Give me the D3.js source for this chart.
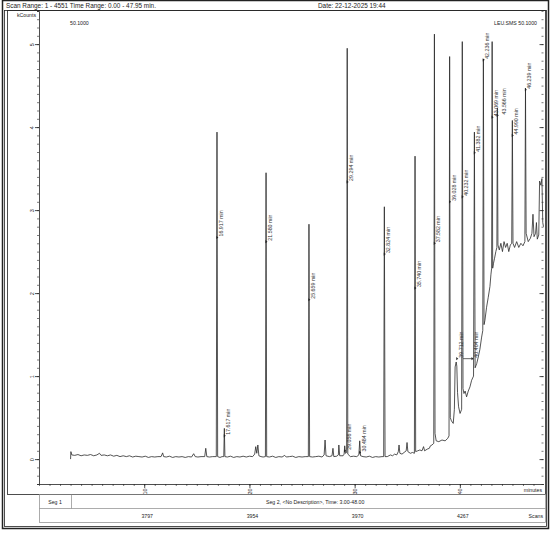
<!DOCTYPE html>
<html>
<head>
<meta charset="utf-8">
<script src="https://cdn.jsdelivr.net/npm/d3@7"></script>
<style>
  body { margin: 0; background: #fff; }
  text { font-family: "Liberation Sans Narrow", "Liberation Sans", Arial, sans-serif; fill: #222; }
</style>
</head>
<body>
<svg id="chart" width="550" height="533"></svg>
<script>
// header / footer texts
let headerLeft = "Scan Range: 1 - 4551 Time Range: 0.00 - 47.95 min.";
let headerDate = "Date: 22-12-2025 19:44";
let yUnit = "kCounts";
let traceName = "50.1000";
let fileName = "LEU.SMS 50.1000";
let segOne = "Seg 1";
let segTwo = "Seg 2, <No Description>, Time: 3.00-48.00";

// axis ticks
let yTickValues = [0, 1, 2, 3, 4, 5];
let xTickValues = [10, 20, 30, 40];
let scanLabels = ["3797", "3954", "3970", "4267"];

// chromatogram trace: [minutes, kCounts]
let trace = [
  [3.00,0.00],[3.03,0.09],[3.12,0.05],[3.4,0.045],[3.7,0.055],[4.0,0.04],[4.3,0.05],[4.6,0.045],
  [4.9,0.055],[5.2,0.04],[5.5,0.05],[5.75,0.07],[5.9,0.045],[6.2,0.05],[6.5,0.04],[6.8,0.05],
  [7.1,0.035],[7.4,0.045],[7.7,0.03],[8.0,0.04],[8.3,0.03],[8.6,0.04],[8.9,0.025],[9.2,0.035],
  [9.5,0.03],[9.8,0.025],[10.1,0.035],[10.4,0.02],[10.7,0.03],[11.0,0.025],[11.3,0.03],[11.6,0.03],
  [11.75,0.075],[11.85,0.03],[12.1,0.025],[12.4,0.035],[12.7,0.02],[13.0,0.03],[13.3,0.025],
  [13.6,0.03],[13.9,0.02],[14.2,0.03],[14.5,0.025],[14.7,0.065],[14.85,0.03],[15.1,0.025],
  [15.4,0.03],[15.75,0.03],[15.85,0.13],[15.95,0.03],[16.2,0.025],[16.5,0.03],[16.85,0.03],
  [16.917,3.94],[16.98,0.03],[17.2,0.02],[17.4,0.03],[17.56,0.03],[17.617,0.37],[17.67,0.03],
  [17.9,0.025],[18.2,0.035],[18.5,0.02],[18.8,0.03],[19.1,0.025],[19.4,0.035],[19.7,0.025],
  [20.0,0.035],[20.3,0.03],[20.5,0.06],[20.6,0.15],[20.7,0.07],[20.8,0.17],[20.9,0.04],[21.1,0.03],
  [21.3,0.025],[21.52,0.03],[21.58,3.45],[21.64,0.03],[21.9,0.025],[22.2,0.035],[22.5,0.02],
  [22.8,0.03],[23.1,0.025],[23.35,0.045],[23.5,0.025],[23.8,0.03],[24.1,0.035],[24.4,0.02],
  [24.7,0.03],[25.0,0.025],[25.3,0.03],[25.6,0.03],[25.659,2.83],[25.72,0.03],[26.0,0.025],
  [26.3,0.03],[26.6,0.035],[26.9,0.025],[27.1,0.05],[27.19,0.23],[27.28,0.04],[27.6,0.03],
  [27.85,0.04],[27.94,0.13],[28.02,0.03],[28.3,0.035],[28.45,0.05],[28.5,0.17],[28.58,0.04],
  [28.9,0.04],[29.0,0.06],[29.056,0.16],[29.13,0.07],[29.24,0.08],[29.294,4.95],[29.35,0.06],
  [29.6,0.03],[29.9,0.035],[30.2,0.03],[30.4,0.05],[30.484,0.22],[30.56,0.04],[30.8,0.03],
  [31.1,0.025],[31.4,0.035],[31.7,0.02],[32.0,0.03],[32.3,0.025],[32.6,0.03],[32.76,0.03],
  [32.824,3.04],[32.89,0.03],[33.1,0.03],[33.4,0.05],[33.6,0.04],[33.8,0.06],[34.0,0.05],
  [34.15,0.09],[34.22,0.17],[34.3,0.07],[34.5,0.06],[34.7,0.08],[34.9,0.1],[34.98,0.2],[35.06,0.09],
  [35.3,0.07],[35.5,0.08],[35.68,0.07],[35.74,3.65],[35.8,0.09],[36.0,0.1],[36.2,0.11],[36.4,0.1],
  [36.55,0.15],[36.65,0.1],[36.9,0.12],[37.1,0.13],[37.2,0.16],[37.35,0.17],[37.52,0.19],
  [37.582,5.12],[37.64,0.31],[37.75,0.22],[38.0,0.21],[38.3,0.23],[38.6,0.22],[38.85,0.25],
  [38.97,0.28],[39.028,4.85],[39.09,0.5],[39.2,0.46],[39.37,0.43],[39.48,0.6],[39.55,1.11],
  [39.65,1.17],[39.712,1.12],[39.78,0.8],[39.88,0.63],[40.02,0.55],[40.17,0.6],[40.232,5.03],
  [40.3,0.85],[40.39,0.79],[40.5,0.82],[40.64,0.75],[40.8,0.82],[40.96,0.87],[41.12,0.95],
  [41.3,1.0],[41.382,3.94],[41.45,1.1],[41.6,1.15],[41.75,1.23],[41.9,1.32],[42.07,1.47],
  [42.18,1.55],[42.236,4.82],[42.3,1.62],[42.38,1.67],[42.54,1.83],[42.7,1.95],[42.86,2.08],
  [42.95,2.22],[43.02,2.3],[43.069,5.03],[43.12,2.3],[43.2,2.36],[43.3,2.42],[43.42,2.5],
  [43.52,2.55],[43.566,4.23],[43.62,2.58],[43.75,2.52],[43.9,2.6],[44.05,2.5],[44.2,2.62],
  [44.35,2.55],[44.5,2.6],[44.65,2.5],[44.8,2.58],[44.93,2.6],[44.99,4.08],[45.05,2.6],
  [45.2,2.55],[45.4,2.62],[45.6,2.55],[45.8,2.6],[46.0,2.57],[46.18,2.62],[46.239,4.47],
  [46.3,2.72],[46.5,2.62],[46.7,2.66],[46.85,2.72],[46.95,2.95],[47.05,2.68],[47.2,2.72],
  [47.28,2.85],[47.36,2.65],[47.5,2.7],[47.58,3.35],[47.7,3.3],[47.8,3.38],[47.88,2.85],[47.95,2.8]
];

// labelled peaks
let peakTimes = [16.917, 17.617, 21.580, 25.659, 29.056, 29.294, 30.484, 32.824, 35.740, 37.582,
                 39.028, 39.712, 40.232, 40.404, 41.382, 42.236, 43.069, 43.566, 44.990, 46.239];
let peakLabels = ["16.917 min", "17.617 min", "21.580 min", "25.659 min", "29.056 min", "29.294 min",
                  "30.484 min", "32.824 min", "35.740 min", "37.582 min", "39.028 min", "39.712 min",
                  "40.232 min", "40.404 min", "41.382 min", "42.236 min", "43.069 min", "43.566 min",
                  "44.990 min", "46.239 min"];
// level (kCounts) where each label's marker sits
let peakLabelLevel = [2.67, 0.28, 2.62, 1.92, 0.1, 3.34, 0.08, 2.47, 2.06, 2.6,
                      3.1, 1.21, 3.16, 1.21, 3.69, 4.81, 4.12, 4.14, 3.9, 4.45];

let svg = d3.select("#chart");
let ink = "#222";

let x = d3.scaleLinear().domain([0, 47.95]).range([39, 543.5]);
let y = d3.scaleLinear().domain([-0.3, 5.4]).range([484, 10.9]);

// frames
svg.append("rect").attr("x", 2.5).attr("y", 0.5).attr("width", 546).attr("height", 528)
  .attr("fill", "none").attr("stroke", ink).attr("stroke-width", 1.5);
svg.append("rect").attr("x", 4.5).attr("y", 10.5).attr("width", 542).attr("height", 516)
  .attr("fill", "none").attr("stroke", ink).attr("stroke-width", 0.8);
svg.append("rect").attr("x", 7.5).attr("y", 10.5).attr("width", 538).attr("height", 484)
  .attr("fill", "none").attr("stroke", ink).attr("stroke-width", 0.8);

// header
svg.append("text").attr("x", 6).attr("y", 8).style("font-size", "6.4px").text(headerLeft);
svg.append("text").attr("x", 318).attr("y", 8).style("font-size", "6.4px").text(headerDate);

svg.append("text").attr("x", 36).attr("y", 17).attr("text-anchor", "end")
  .style("font-size", "5.2px").text(yUnit);
svg.append("text").attr("x", 70).attr("y", 25).style("font-size", "5.2px").text(traceName);
svg.append("text").attr("x", 537).attr("y", 25).attr("text-anchor", "end")
  .style("font-size", "5.2px").text(fileName);

// left y axis: minor ticks every 0.1, major at integers
let minorY = d3.range(-3, 55).map(i => i / 10);
svg.append("g").attr("transform", "translate(" + x(0) + ",0)")
  .call(d3.axisLeft(y).tickValues(minorY).tickSize(2).tickFormat(""))
  .call(g => g.select(".domain").attr("stroke", ink).attr("stroke-width", 0.8))
  .call(g => g.selectAll(".tick line").attr("stroke", ink).attr("stroke-width", 0.6));
let leftMajor = svg.append("g").attr("transform", "translate(" + x(0) + ",0)")
  .call(d3.axisLeft(y).tickValues(yTickValues).tickSize(4).tickFormat(d3.format("d")));
leftMajor.select(".domain").remove();
leftMajor.selectAll(".tick line").attr("stroke", ink).attr("stroke-width", 0.8);
leftMajor.selectAll(".tick text")
  .attr("x", 0).attr("dy", 0).attr("text-anchor", "middle")
  .attr("transform", "translate(-5,0) rotate(-90)")
  .style("font-size", "5.5px").style("font-family", "Liberation Sans Narrow, Liberation Sans, sans-serif")
  .attr("fill", ink);

// right y axis (ticks only, pointing inside)
let xr = x.range()[1];
svg.append("g").attr("transform", "translate(" + xr + ",0)")
  .call(d3.axisLeft(y).tickValues(minorY).tickSize(2).tickFormat(""))
  .call(g => g.select(".domain").remove())
  .call(g => g.selectAll(".tick line").attr("stroke", ink).attr("stroke-width", 0.6));
svg.append("g").attr("transform", "translate(" + xr + ",0)")
  .call(d3.axisLeft(y).tickValues(yTickValues).tickSize(4).tickFormat(""))
  .call(g => g.select(".domain").remove())
  .call(g => g.selectAll(".tick line").attr("stroke", ink).attr("stroke-width", 0.8));

// x axis
let xBase = y(-0.3);
svg.append("g").attr("transform", "translate(0," + xBase + ")")
  .call(d3.axisBottom(x).tickValues(d3.range(0, 48)).tickSize(2).tickFormat("").tickSizeOuter(0))
  .call(g => g.select(".domain").attr("stroke", ink).attr("stroke-width", 0.8))
  .call(g => g.selectAll(".tick line").attr("stroke", ink).attr("stroke-width", 0.6));
let bottomMajor = svg.append("g").attr("transform", "translate(0," + xBase + ")")
  .call(d3.axisBottom(x).tickValues(xTickValues).tickSize(4).tickFormat(d3.format("d")));
bottomMajor.select(".domain").remove();
bottomMajor.selectAll(".tick line").attr("stroke", ink).attr("stroke-width", 0.8);
bottomMajor.selectAll(".tick text")
  .attr("y", 0).attr("dy", 0).attr("text-anchor", "middle")
  .attr("transform", "translate(2,7.5) rotate(-90)")
  .style("font-size", "5.5px").style("font-family", "Liberation Sans Narrow, Liberation Sans, sans-serif")
  .attr("fill", ink);

svg.append("text").attr("x", 542).attr("y", 492).attr("text-anchor", "end")
  .style("font-size", "5.2px").text("minutes");

// segment / scan table
svg.append("rect").attr("x", 39.5).attr("y", 494.5).attr("width", 506).attr("height", 28)
  .attr("fill", "none").attr("stroke", "#888").attr("stroke-width", 0.7);
svg.append("line").attr("x1", 39.5).attr("x2", 545.5).attr("y1", 508.5).attr("y2", 508.5)
  .attr("stroke", "#888").attr("stroke-width", 0.7);
svg.append("line").attr("x1", 71.5).attr("x2", 71.5).attr("y1", 494.5).attr("y2", 508.5)
  .attr("stroke", "#888").attr("stroke-width", 0.7);
svg.append("text").attr("x", 55).attr("y", 503.5).attr("text-anchor", "middle")
  .style("font-size", "5.2px").text(segOne);
svg.append("text").attr("x", 266).attr("y", 503.5)
  .style("font-size", "5.2px").text(segTwo);
svg.selectAll(".scan").data(scanLabels).enter().append("text")
  .attr("class", "scan")
  .attr("x", (d, i) => x(xTickValues[i]) + 3)
  .attr("y", 517.5).attr("text-anchor", "middle")
  .style("font-size", "5.2px").text(d => d);
svg.append("text").attr("x", 543).attr("y", 517.5).attr("text-anchor", "end")
  .style("font-size", "5.2px").text("Scans");

// the chromatogram
let line = d3.line().x(d => x(d[0])).y(d => y(d[1]));
svg.append("path").datum(trace)
  .attr("d", line)
  .attr("fill", "none")
  .attr("stroke", "#2a2a2a")
  .attr("stroke-width", 0.8)
  .attr("stroke-linejoin", "round");

// peak labels; crowded ones pushed right (40.404 gets a leader line)
let nudge = {"40.404 min": 8, "43.566 min": 3};
peakTimes.forEach(function(t, i) {
  let px = x(t);
  let py = y(peakLabelLevel[i]);
  let dx = nudge[peakLabels[i]] || 0;
  if (dx > 5) {
    svg.append("line").attr("x1", px - 1).attr("x2", px + dx).attr("y1", py).attr("y2", py)
      .attr("stroke", ink).attr("stroke-width", 0.7);
  }
  let mx = dx > 5 ? px + dx : px;
  svg.append("path")
    .attr("d", "M" + (mx - 0.6) + "," + (py - 1.6) + "L" + (mx + 1.4) + "," + py +
               "L" + (mx - 0.6) + "," + (py + 1.6) + "Z")
    .attr("fill", ink);
  svg.append("text")
    .attr("transform", "translate(" + (px + dx + 6) + "," + (py - 1) + ") rotate(-90)")
    .style("font-size", "5.3px")
    .style("fill", "#333")
    .text(peakLabels[i]);
});
</script>
</body>
</html>
